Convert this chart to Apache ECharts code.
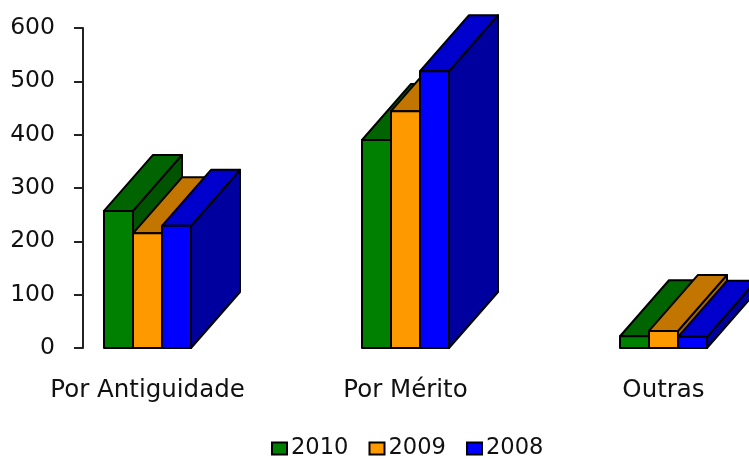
<!DOCTYPE html>
<html><head><meta charset="utf-8">
<style>html,body{margin:0;padding:0;background:#fff}#c{width:749px;height:459px}</style>
<script src="https://cdn.jsdelivr.net/npm/echarts@6/dist/echarts.min.js"></script>
</head><body><div id="c"></div>
<script>
const categories = ['Por Antiguidade', 'Por Mérito', 'Outras'];
const years = ['2010', '2009', '2008'];
const values2010 = [257, 390, 22];
const values2009 = [215, 444, 32];
const values2008 = [229, 519, 21];
const yTicks = {min: 0, max: 600, interval: 100};
const palette = {
  '2010': {front: '#008000', top: '#006400', side: '#005400'},
  '2009': {front: '#FF9900', top: '#C27600', side: '#A86600'},
  '2008': {front: '#0000FF', top: '#0000CC', side: '#00009E'}
};
const seriesValues = [values2010, values2009, values2008];
const chart = echarts.init(document.getElementById('c'), null, {renderer: 'canvas'});
const DX = 49, DY = 56, BAR_FRACTION = 29 / 258;
const FONT = '"DejaVu Sans", Verdana, sans-serif';
function renderBar(params, api) {
  const base = api.coord([api.value(0), 0]);
  const top = api.coord([api.value(0), api.value(1)]);
  const w = api.size([1, 0])[0] * BAR_FRACTION;
  const x0 = base[0] + (params.seriesIndex - 1.5) * w, x1 = x0 + w;
  const yb = base[1], yt = top[1];
  const colors = palette[years[params.seriesIndex]];
  const line = {stroke: '#000', lineWidth: 2, lineJoin: 'round'};
  const poly = (points, fill) => ({type: 'polygon', shape: {points}, style: Object.assign({fill}, line)});
  return {type: 'group', children: [
    poly([[x1, yb], [x1 + DX, yb - DY], [x1 + DX, yt - DY], [x1, yt]], colors.side),
    poly([[x0, yt], [x0 + DX, yt - DY], [x1 + DX, yt - DY], [x1, yt]], colors.top),
    poly([[x0, yb], [x1, yb], [x1, yt], [x0, yt]], colors.front)
  ]};
}
chart.setOption({
  animation: false,
  backgroundColor: '#fff',
  grid: {left: 18.5, top: 28, width: 774, height: 320, containLabel: false, outerBoundsMode: 'none'},
  legend: {
    data: years, left: 266, top: 432, icon: 'rect', itemWidth: 15, itemHeight: 12, itemGap: 20,
    itemStyle: {borderColor: '#000', borderWidth: 2},
    textStyle: {fontFamily: FONT, fontSize: 22.6, color: '#111', padding: [0, 0, 0, -1]}
  },
  xAxis: {
    type: 'category', data: categories,
    axisLine: {show: false}, axisTick: {show: false},
    axisLabel: {fontFamily: FONT, fontSize: 24.5, color: '#111', margin: 30, interval: 0}
  },
  yAxis: {
    type: 'value', min: yTicks.min, max: yTicks.max, interval: yTicks.interval, offset: -64.5,
    splitLine: {show: false},
    axisLine: {show: true, lineStyle: {color: '#222', width: 2}},
    axisTick: {show: true, length: 9, lineStyle: {color: '#222', width: 2}},
    axisLabel: {fontFamily: FONT, fontSize: 23.5, color: '#111', margin: 28}
  },
  series: years.map((name, i) => ({
    name, type: 'custom', renderItem: renderBar, clip: false,
    itemStyle: {color: palette[name].front},
    encode: {x: 0, y: 1},
    data: seriesValues[i].map((v, k) => [k, v])
  }))
});
</script></body></html>
